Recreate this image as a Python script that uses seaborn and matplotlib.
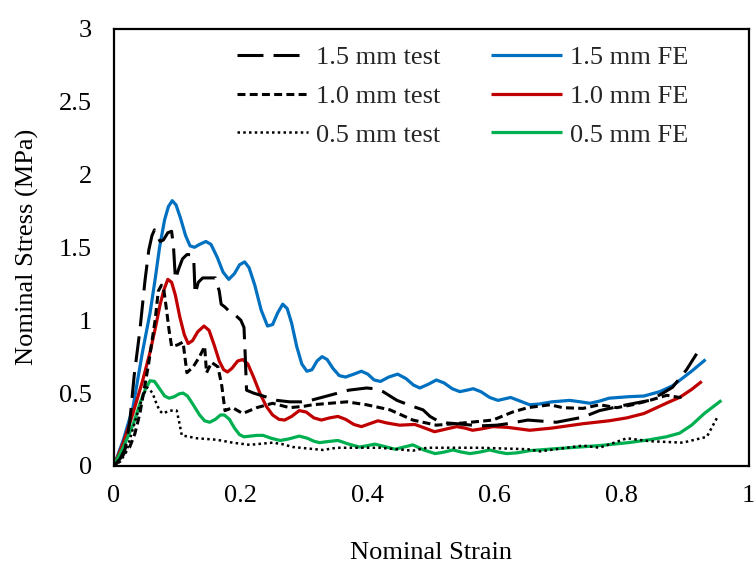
import matplotlib
matplotlib.use("Agg")
import matplotlib.pyplot as plt
import seaborn as sns
import pandas as pd

# ---- series: nominal strain vs nominal stress (MPa) ----
fe15_x = [0, 0.015, 0.03, 0.045, 0.057, 0.065, 0.072, 0.08, 0.086, 0.092, 0.098, 0.105, 0.113,
          0.12, 0.127, 0.135, 0.145, 0.153, 0.163, 0.172, 0.181, 0.19, 0.198, 0.206, 0.213, 0.222,
          0.232, 0.242, 0.25, 0.258, 0.266, 0.273, 0.28, 0.288, 0.296, 0.304, 0.312, 0.32, 0.328,
          0.336, 0.345, 0.355, 0.365, 0.378, 0.39, 0.4, 0.41, 0.42, 0.433, 0.447, 0.46, 0.472,
          0.482, 0.495, 0.508, 0.52, 0.533, 0.545, 0.556, 0.566, 0.578, 0.592, 0.605, 0.615,
          0.625, 0.64, 0.655, 0.67, 0.69, 0.718, 0.735, 0.75, 0.765, 0.78, 0.81, 0.835, 0.86,
          0.88, 0.895, 0.91, 0.932]
fe15_y = [0, 0.18, 0.40, 0.78, 1.05, 1.28, 1.50, 1.69, 1.78, 1.82, 1.79, 1.70, 1.58,
          1.51, 1.50, 1.52, 1.54, 1.52, 1.43, 1.33, 1.28, 1.32, 1.38, 1.40, 1.36, 1.24,
          1.07, 0.96, 0.97, 1.05, 1.11, 1.08, 0.98, 0.82, 0.70, 0.65, 0.66, 0.72, 0.75,
          0.73, 0.67, 0.62, 0.61, 0.63, 0.65, 0.63, 0.59, 0.58, 0.61, 0.63, 0.60, 0.555,
          0.535, 0.56, 0.59, 0.57, 0.53, 0.51, 0.52, 0.53, 0.51, 0.47, 0.45, 0.46,
          0.47, 0.445, 0.42, 0.425, 0.44, 0.45, 0.44, 0.43, 0.445, 0.465, 0.475, 0.48, 0.51,
          0.55, 0.60, 0.65, 0.73]

fe10_x = [0, 0.015, 0.03, 0.045, 0.057, 0.066, 0.073, 0.079, 0.085, 0.091, 0.097, 0.104, 0.111,
          0.117, 0.124, 0.132, 0.142, 0.15, 0.158, 0.166, 0.173, 0.179, 0.186, 0.195, 0.203,
          0.211, 0.22, 0.23, 0.24, 0.25, 0.26, 0.269, 0.28, 0.292, 0.303, 0.315, 0.327, 0.34,
          0.353, 0.365, 0.378, 0.39, 0.403, 0.416, 0.43, 0.45, 0.474, 0.49, 0.505, 0.52, 0.54,
          0.553, 0.565, 0.58, 0.597, 0.62, 0.655, 0.69, 0.739, 0.78, 0.808, 0.835, 0.855,
          0.875, 0.891, 0.91, 0.926]
fe10_y = [0, 0.16, 0.36, 0.58, 0.78, 0.96, 1.11, 1.21, 1.28, 1.26, 1.17, 1.02, 0.90,
          0.84, 0.86, 0.92, 0.96, 0.93, 0.83, 0.72, 0.66, 0.645, 0.67, 0.72, 0.73,
          0.70, 0.61, 0.50, 0.41, 0.35, 0.32, 0.315, 0.34, 0.38, 0.37, 0.33, 0.315, 0.33,
          0.34, 0.32, 0.285, 0.27, 0.29, 0.31, 0.295, 0.28, 0.285, 0.26, 0.235, 0.25, 0.27,
          0.26, 0.245, 0.255, 0.27, 0.265, 0.245, 0.26, 0.29, 0.31, 0.33, 0.36, 0.40,
          0.44, 0.47, 0.525, 0.58]

fe05_x = [0, 0.015, 0.03, 0.042, 0.05, 0.057, 0.064, 0.072, 0.08, 0.087, 0.095, 0.103, 0.109,
          0.116, 0.125, 0.135, 0.143, 0.151, 0.16, 0.168, 0.174, 0.182, 0.19, 0.198, 0.205,
          0.215, 0.225, 0.235, 0.248, 0.262, 0.275, 0.292, 0.305, 0.315, 0.324, 0.338, 0.353,
          0.37, 0.387, 0.4, 0.411, 0.425, 0.443, 0.457, 0.471, 0.488, 0.506, 0.52, 0.534,
          0.548, 0.561, 0.576, 0.592, 0.606, 0.619, 0.635, 0.655, 0.7, 0.765, 0.81, 0.844,
          0.87, 0.891, 0.91, 0.93, 0.957]
fe05_y = [0, 0.13, 0.28, 0.44, 0.53, 0.585, 0.58, 0.53, 0.48, 0.465, 0.475, 0.495, 0.50,
          0.48, 0.42, 0.35, 0.31, 0.30, 0.32, 0.35, 0.35, 0.32, 0.26, 0.215, 0.20,
          0.205, 0.21, 0.21, 0.19, 0.175, 0.185, 0.205, 0.19, 0.17, 0.16, 0.168, 0.175,
          0.15, 0.13, 0.14, 0.15, 0.135, 0.115, 0.13, 0.145, 0.11, 0.085, 0.095, 0.11,
          0.095, 0.085, 0.095, 0.11, 0.095, 0.085, 0.09, 0.105, 0.12, 0.14, 0.16, 0.18,
          0.20, 0.225, 0.28, 0.36, 0.45]

test15_x = [0, 0.01, 0.018, 0.025, 0.032, 0.041, 0.049, 0.055, 0.06, 0.064, 0.068, 0.073, 0.078,
            0.085, 0.091, 0.094, 0.097, 0.102, 0.108, 0.115, 0.122, 0.126, 0.128, 0.133, 0.14,
            0.15, 0.16, 0.166, 0.169, 0.175, 0.182, 0.19, 0.2, 0.205, 0.207, 0.209, 0.22,
            0.235, 0.257, 0.277, 0.295, 0.31, 0.34, 0.37, 0.398, 0.41, 0.424, 0.446, 0.47,
            0.487, 0.498, 0.508, 0.525, 0.54, 0.576, 0.603, 0.62, 0.652, 0.697, 0.739, 0.765,
            0.808, 0.844, 0.865, 0.88, 0.902, 0.918]
test15_y = [0, 0.05, 0.12, 0.30, 0.62, 0.93, 1.27, 1.48, 1.58, 1.62, 1.58, 1.54, 1.55,
            1.60, 1.61, 1.50, 1.28, 1.35, 1.42, 1.45, 1.45, 1.40, 1.18, 1.26, 1.29,
            1.29, 1.29, 1.20, 1.11, 1.09, 1.06, 1.04, 1.00, 0.95, 0.75, 0.52, 0.50,
            0.48, 0.45, 0.44, 0.44, 0.45, 0.485, 0.52, 0.535, 0.53, 0.51, 0.45, 0.41,
            0.385, 0.34, 0.315, 0.295, 0.29, 0.275, 0.28, 0.29, 0.315, 0.30, 0.335, 0.38,
            0.42, 0.45, 0.50, 0.54, 0.66, 0.77]

test10_x = [0, 0.01, 0.018, 0.025, 0.033, 0.041, 0.054, 0.065, 0.07, 0.075, 0.079, 0.083, 0.087,
            0.091, 0.1, 0.109, 0.115, 0.125, 0.135, 0.143, 0.146, 0.154, 0.164, 0.17, 0.175,
            0.187, 0.203, 0.225, 0.25, 0.277, 0.3, 0.313, 0.34, 0.367, 0.398, 0.435, 0.471,
            0.508, 0.55, 0.597, 0.628, 0.652, 0.687, 0.707, 0.739, 0.765, 0.792, 0.817, 0.844,
            0.871, 0.891, 0.9]
test10_y = [0, 0.04, 0.10, 0.13, 0.22, 0.36, 0.68, 1.00, 1.20, 1.24, 1.20, 1.07, 0.93,
            0.82, 0.83, 0.85, 0.64, 0.68, 0.75, 0.82, 0.64, 0.71, 0.68, 0.55, 0.38,
            0.40, 0.36, 0.40, 0.43, 0.40, 0.41, 0.42, 0.43, 0.44, 0.42, 0.385, 0.315,
            0.28, 0.295, 0.315, 0.37, 0.40, 0.42, 0.40, 0.395, 0.42, 0.40, 0.42, 0.45,
            0.485, 0.47, 0.48]

test05_x = [0, 0.01, 0.02, 0.025, 0.035, 0.045, 0.052, 0.057, 0.061, 0.066, 0.072, 0.077, 0.088,
            0.099, 0.103, 0.107, 0.131, 0.162, 0.187, 0.214, 0.25, 0.265, 0.282, 0.329, 0.351,
            0.419, 0.471, 0.493, 0.576, 0.652, 0.671, 0.739, 0.765, 0.808, 0.844, 0.896, 0.934,
            0.95]
test05_y = [0, 0.03, 0.10, 0.18, 0.33, 0.47, 0.54, 0.52, 0.50, 0.44, 0.38, 0.36, 0.38,
            0.38, 0.30, 0.21, 0.19, 0.18, 0.16, 0.145, 0.16, 0.15, 0.13, 0.11, 0.125,
            0.125, 0.105, 0.125, 0.125, 0.115, 0.10, 0.14, 0.125, 0.19, 0.17, 0.16, 0.20,
            0.33]

x_ticks = [0, 0.2, 0.4, 0.6, 0.8, 1]
x_tick_labels = ["0", "0.2", "0.4", "0.6", "0.8", "1"]
y_ticks = [0, 0.5, 1, 1.5, 2, 2.5, 3]
y_tick_labels = ["0", "0.5", "1", "1.5", "2", "2.5", "3"]

sns.set_theme(style="white")
plt.rcParams["font.family"] = ["Liberation Serif", "DejaVu Serif"]
plt.rcParams["lines.solid_capstyle"] = "butt"

FS = 19
fig = plt.figure(figsize=(7.54, 5.68), dpi=100)
ax = fig.add_axes([0.151, 0.1796, 0.842, 0.770])

BLUE, RED, GREEN = "#0070C0", "#C00000", "#00B050"

series = [
    (test15_x, test15_y, "1.5 mm test", dict(color="black", lw=2.2, linestyle=(0, (8.5, 3.3)))),
    (test10_x, test10_y, "1.0 mm test", dict(color="black", lw=2.2, linestyle=(0, (2.6, 1.4)))),
    (test05_x, test05_y, "0.5 mm test", dict(color="black", lw=1.8, linestyle=(0, (1, 1.3)))),
    (fe15_x, fe15_y, "1.5 mm FE", dict(color=BLUE, lw=2.3)),
    (fe10_x, fe10_y, "1.0 mm FE", dict(color=RED, lw=2.3)),
    (fe05_x, fe05_y, "0.5 mm FE", dict(color=GREEN, lw=2.3)),
]

# draw FE curves beneath the test curves
draw_order = [3, 4, 5, 0, 1, 2]
for i in draw_order:
    xs, ys, name, style = series[i]
    df = pd.DataFrame({"strain": xs, "stress": ys})
    sns.lineplot(data=df, x="strain", y="stress", ax=ax, sort=False,
                 estimator=None, label=name, **style)

ax.set_xlim(0, 1)
ax.set_ylim(0, 3)
ax.set_xticks(x_ticks)
ax.set_xticklabels(x_tick_labels)
ax.set_yticks(y_ticks)
ax.set_yticklabels(y_tick_labels)
ax.tick_params(axis="both", direction="in", length=7, width=1.3, labelsize=FS,
               colors="black")
ax.tick_params(axis="x", pad=14)
ax.tick_params(axis="y", pad=16)
for sp in ax.spines.values():
    sp.set_visible(True)
    sp.set_color("black")
    sp.set_linewidth(1.6)

ax.set_xlabel("Nominal Strain", fontsize=FS, color="black", labelpad=25)
ax.set_ylabel("Nominal Stress (MPa)", fontsize=FS, color="black", labelpad=14)

handles, labels = ax.get_legend_handles_labels()
lookup = dict(zip(labels, handles))
order = [s[2] for s in series]
ax.legend([lookup[n] for n in order], order, ncol=2, loc="upper left",
          bbox_to_anchor=(0.194, 0.961), frameon=False, fontsize=FS,
          handlelength=2.7, handletextpad=0.3, columnspacing=1.9,
          labelspacing=0.58, borderpad=0, borderaxespad=0)

fig.savefig("out.png", dpi=100)
